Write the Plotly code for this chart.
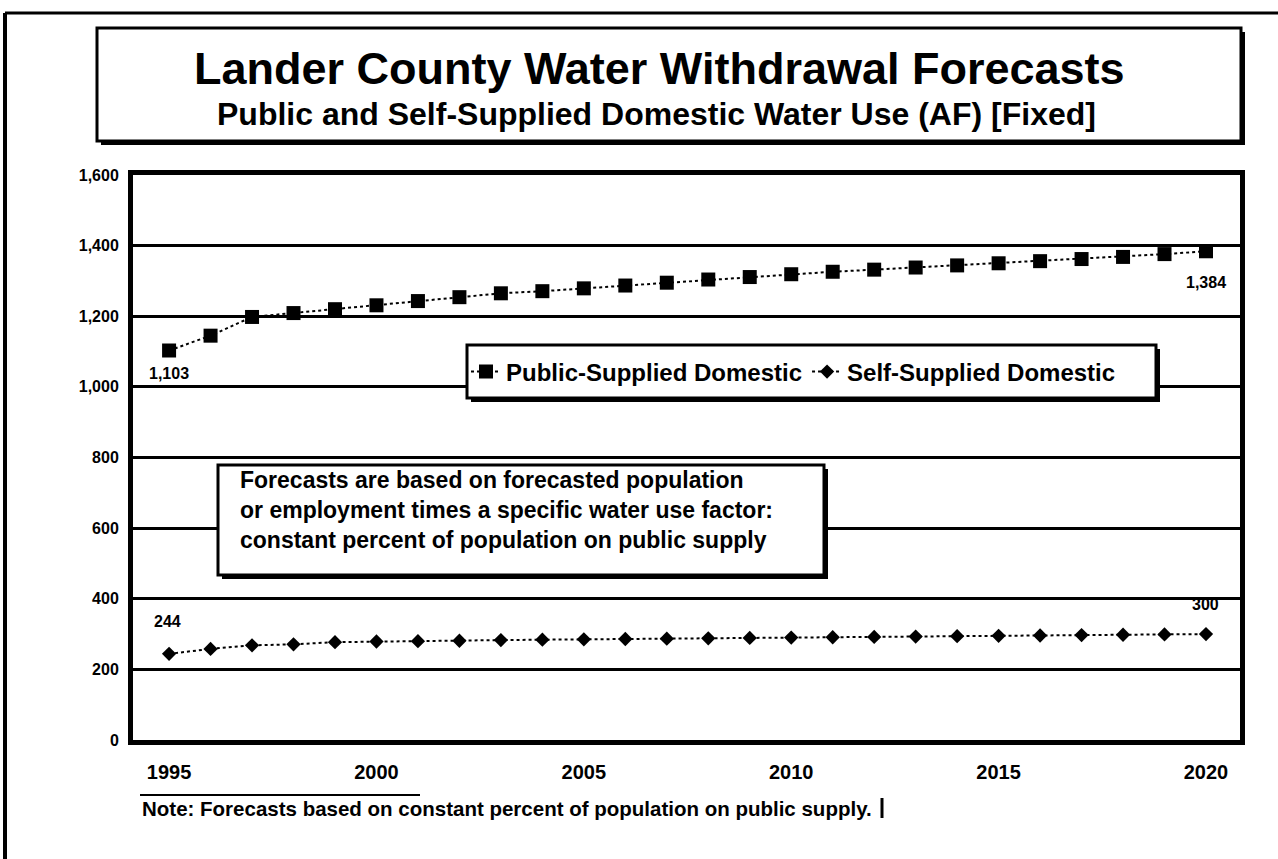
import plotly.graph_objects as go

# Forecast years and withdrawals (acre-feet)
years = list(range(1995, 2021))
public_supplied = [1103, 1145, 1198, 1209, 1220, 1231, 1243, 1254, 1265, 1271,
                   1279, 1287, 1295, 1304, 1311, 1319, 1326, 1332, 1338, 1344,
                   1350, 1356, 1362, 1368, 1376, 1384]
self_supplied = [244, 258, 268, 271, 277, 279, 280, 281, 283, 284,
                 285, 286, 287, 288, 289, 290, 291, 292, 293, 294,
                 295, 296, 297, 298, 299, 300]

y_ticks = [0, 200, 400, 600, 800, 1000, 1200, 1400, 1600]
x_ticks = [1995, 2000, 2005, 2010, 2015, 2020]

title = "<b>Lander County Water Withdrawal Forecasts</b>"
subtitle = "<b>Public and Self-Supplied Domestic Water Use (AF) [Fixed]</b>"
note_box = ("<b>Forecasts are based on forecasted population<br>"
            "or employment times a specific water use factor:<br>"
            "constant percent of population on public supply</b>")
footnote = "<b>Note: Forecasts based on constant percent of population on public supply.</b>"

W, H = 1278, 859
L, R, T, B = 133, 1240, 175, 740
FONT = "Liberation Sans, Arial, sans-serif"


def px(x):
    return (x - L) / (R - L)


def py(y):
    return (B - y) / (B - T)


def shadow_box(x0, y0, x1, y1, off=4, lw=3):
    return [
        dict(type="rect", xref="paper", yref="paper", layer="above",
             x0=px(x0 + off), x1=px(x1 + off), y0=py(y1 + off), y1=py(y0 + off),
             fillcolor="black", line=dict(width=0)),
        dict(type="rect", xref="paper", yref="paper", layer="above",
             x0=px(x0), x1=px(x1), y0=py(y1), y1=py(y0),
             fillcolor="white", line=dict(color="black", width=lw)),
    ]


fig = go.Figure()
fig.add_trace(go.Scatter(
    x=years, y=public_supplied, name="<b>Public-Supplied Domestic</b>",
    mode="lines+markers",
    line=dict(color="black", width=2, dash="dot"),
    marker=dict(symbol="square", size=14, color="black"),
))
fig.add_trace(go.Scatter(
    x=years, y=self_supplied, name="<b>Self-Supplied Domestic</b>",
    mode="lines+markers",
    line=dict(color="black", width=2, dash="dot"),
    marker=dict(symbol="diamond", size=11, color="black"),
))

shapes = []
# page frame lines
shapes.append(dict(type="line", xref="paper", yref="paper", layer="above",
                   x0=px(5), x1=px(5), y0=py(13), y1=py(859),
                   line=dict(color="black", width=4)))
shapes.append(dict(type="line", xref="paper", yref="paper", layer="above",
                   x0=px(5), x1=px(1278), y0=py(13), y1=py(13),
                   line=dict(color="black", width=3)))
shapes += shadow_box(97, 28, 1241, 141)
shapes += shadow_box(467, 345, 1156, 398)
shapes += shadow_box(218, 465, 824, 575)
# footnote rules
shapes.append(dict(type="line", xref="paper", yref="paper", layer="above",
                   x0=px(140), x1=px(420), y0=py(795), y1=py(795),
                   line=dict(color="black", width=2)))
shapes.append(dict(type="line", xref="paper", yref="paper", layer="above",
                   x0=px(882), x1=px(882), y0=py(798), y1=py(818),
                   line=dict(color="black", width=3)))

label_font = dict(family=FONT, size=16, color="black")
annotations = [
    dict(xref="paper", yref="paper", x=px(659), y=py(68), text=title,
         showarrow=False, xanchor="center", yanchor="middle",
         font=dict(family=FONT, size=45, color="black")),
    dict(xref="paper", yref="paper", x=px(656), y=py(114), text=subtitle,
         showarrow=False, xanchor="center", yanchor="middle",
         font=dict(family=FONT, size=32, color="black")),
    dict(xref="paper", yref="paper", x=px(238), y=py(510), text=note_box,
         showarrow=False, xanchor="left", yanchor="middle", align="left",
         font=dict(family=FONT, size=23, color="black")),
    dict(xref="paper", yref="paper", x=px(140), y=py(808), text=footnote,
         showarrow=False, xanchor="left", yanchor="middle",
         font=dict(family=FONT, size=20.5, color="black")),
    # end-point value labels
    dict(x=years[0], y=public_supplied[0], text=f"<b>{public_supplied[0]:,}</b>",
         showarrow=False, yshift=-23, xshift=0, font=label_font),
    dict(x=years[-1], y=public_supplied[-1], text=f"<b>{public_supplied[-1]:,}</b>",
         showarrow=False, yshift=-31, xshift=0, font=label_font),
    dict(x=years[0], y=self_supplied[0], text=f"<b>{self_supplied[0]:,}</b>",
         showarrow=False, yshift=32, xshift=-2, font=label_font),
    dict(x=years[-1], y=self_supplied[-1], text=f"<b>{self_supplied[-1]:,}</b>",
         showarrow=False, yshift=30, xshift=0, font=label_font),
]

fig.update_layout(
    width=W, height=H,
    margin=dict(l=L, r=W - R, t=T, b=H - B, pad=0),
    paper_bgcolor="white", plot_bgcolor="white",
    font=dict(family=FONT, color="black"),
    showlegend=True,
    legend=dict(orientation="h", x=px(466), y=py(372), xanchor="left",
                yanchor="middle", bgcolor="rgba(0,0,0,0)", borderwidth=0,
                font=dict(family=FONT, size=24, color="black"),
                itemwidth=30),
    shapes=shapes,
    annotations=annotations,
)
fig.update_xaxes(
    range=[1994.13, 2020.82], tickvals=x_ticks,
    ticktext=[f"<b>{v}</b>" for v in x_ticks],
    showgrid=False, zeroline=False,
    showline=True, linecolor="black", linewidth=5, mirror=True,
    ticks="", ticklabelstandoff=10,
    tickfont=dict(family=FONT, size=20, color="black"),
)
fig.update_yaxes(
    range=[0, 1600], tickvals=y_ticks,
    ticktext=[f"<b>{v:,}</b>" for v in y_ticks],
    showgrid=True, gridcolor="black", gridwidth=3, zeroline=False,
    showline=True, linecolor="black", linewidth=5, mirror=True,
    ticks="", ticklabelstandoff=6,
    tickfont=dict(family=FONT, size=16, color="black"),
)

fig.write_html("out.html")
